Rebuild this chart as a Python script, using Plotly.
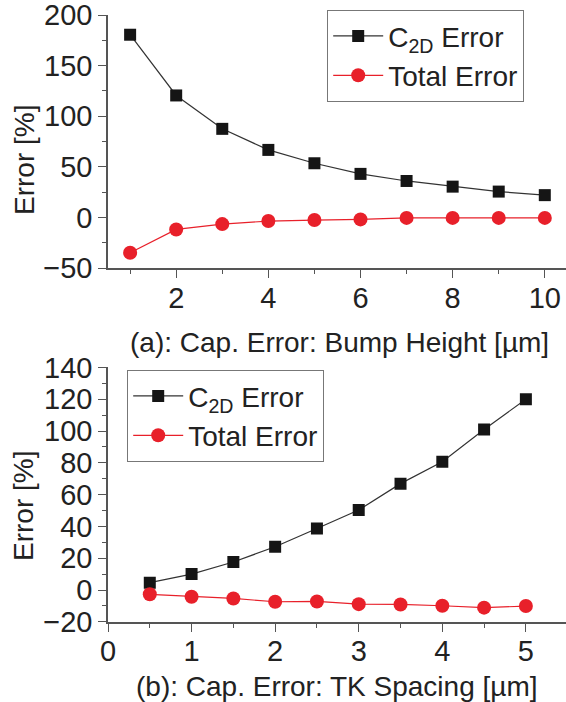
import plotly.graph_objects as go

# ---- data ----
bump_height = [1, 2, 3, 4, 5, 6, 7, 8, 9, 10]
c2d_err_a = [180.5, 120.5, 87.5, 66.7, 53.5, 43, 36, 30.4, 25.5, 22]
total_err_a = [-35, -11.9, -6.6, -3.6, -2.6, -2, -0.5, -0.5, -0.5, -0.5]

tk_spacing = [0.5, 1.0, 1.5, 2.0, 2.5, 3.0, 3.5, 4.0, 4.5, 5.0]
c2d_err_b = [4.6, 10, 17.6, 27.2, 38.7, 50.3, 66.9, 80.7, 101, 120]
total_err_b = [-2.7, -4.2, -5.3, -7.4, -7.2, -8.9, -9.1, -9.9, -11.1, -10.1]

series_names = ["C<sub>2D</sub> Error", "Total Error"]
title_a = "(a): Cap. Error: Bump Height [µm]"
title_b = "(b): Cap. Error: TK Spacing [µm]"
ytitle = "Error [%]"

W, H = 566, 702
FONT = "Liberation Sans, Arial, sans-serif"
BLACK = "#151515"
RED = "#e8202a"
AX = "#555555"

fig = go.Figure()

def add_pair(x, c2d, tot, xa, ya, leg):
    fig.add_trace(go.Scatter(x=x, y=c2d, mode="lines+markers", name=series_names[0],
                             xaxis=xa, yaxis=ya, legend=leg,
                             line=dict(color="#333333", width=1.2),
                             marker=dict(symbol="square", size=12, color=BLACK)))
    fig.add_trace(go.Scatter(x=x, y=tot, mode="lines+markers", name=series_names[1],
                             xaxis=xa, yaxis=ya, legend=leg,
                             line=dict(color=RED, width=1.2),
                             marker=dict(symbol="circle", size=14, color=RED)))

add_pair(bump_height, c2d_err_a, total_err_a, "x", "y", "legend")
add_pair(tk_spacing, c2d_err_b, total_err_b, "x2", "y2", "legend2")

def px_x(p):
    return p / W

def px_y(p):
    return 1 - p / H

axis_common = dict(showgrid=False, zeroline=False, showline=True, linecolor=AX, linewidth=1.5,
                   ticks="outside", ticklen=8, tickwidth=1.3, tickcolor=AX,
                   tickfont=dict(family=FONT, size=29, color="#222"), automargin=False,
                   ticklabeloverflow="allow")

legend_common = dict(xanchor="left", yanchor="top", bordercolor="#777", borderwidth=1.2,
                     bgcolor="white", font=dict(family=FONT, size=28, color="#222"),
                     tracegroupgap=0, itemwidth=50)

fig.update_layout(
    width=W, height=H,
    margin=dict(l=0, r=0, t=0, b=0),
    paper_bgcolor="white", plot_bgcolor="white",
    font=dict(family=FONT, color="#222"),
    xaxis=dict(domain=[px_x(108), 1.0], range=[0.52, 10.46], anchor="y",
               tickmode="array", tickvals=[2, 4, 6, 8, 10], ticklabelstandoff=-5,
               minor=dict(tickvals=[1, 3, 5, 7, 9], ticks="outside", ticklen=4, tickcolor=AX),
               **axis_common),
    yaxis=dict(domain=[px_y(268), px_y(15)], range=[-50, 200], anchor="x",
               tickmode="array", tickvals=[-50, 0, 50, 100, 150, 200],
               minor=dict(tickvals=[-25, 25, 75, 125, 175], ticks="outside", ticklen=4, tickcolor=AX),
               **axis_common),
    xaxis2=dict(domain=[px_x(108), 1.0], range=[0, 5.48], anchor="y2",
                tickmode="array", tickvals=[0, 1, 2, 3, 4, 5], ticklabelstandoff=-5,
                minor=dict(tickvals=[0.5, 1.5, 2.5, 3.5, 4.5], ticks="outside", ticklen=4, tickcolor=AX),
                **axis_common),
    yaxis2=dict(domain=[px_y(621.8), px_y(367.4)], range=[-20, 140], anchor="x2",
                tickmode="array", tickvals=[-20, 0, 20, 40, 60, 80, 100, 120, 140],
                minor=dict(tickvals=[-10, 10, 30, 50, 70, 90, 110, 130], ticks="outside", ticklen=4, tickcolor=AX),
                **axis_common),
    legend=dict(x=px_x(327), y=px_y(10), **legend_common),
    legend2=dict(x=px_x(127), y=px_y(370), **legend_common),
    showlegend=True,
)

ann_font = dict(family=FONT, size=28, color="#222")
fig.add_annotation(text=title_a, x=px_x(339), y=px_y(342), xref="paper", yref="paper",
                   showarrow=False, xanchor="center", yanchor="middle", font=ann_font)
fig.add_annotation(text=title_b, x=px_x(337), y=px_y(686), xref="paper", yref="paper",
                   showarrow=False, xanchor="center", yanchor="middle", font=ann_font)
fig.add_annotation(text=ytitle, x=px_x(24), y=px_y(160), xref="paper", yref="paper",
                   showarrow=False, xanchor="center", yanchor="middle", textangle=-90, font=ann_font)
fig.add_annotation(text=ytitle, x=px_x(24), y=px_y(506), xref="paper", yref="paper",
                   showarrow=False, xanchor="center", yanchor="middle", textangle=-90, font=ann_font)

fig.write_html("out.html")
